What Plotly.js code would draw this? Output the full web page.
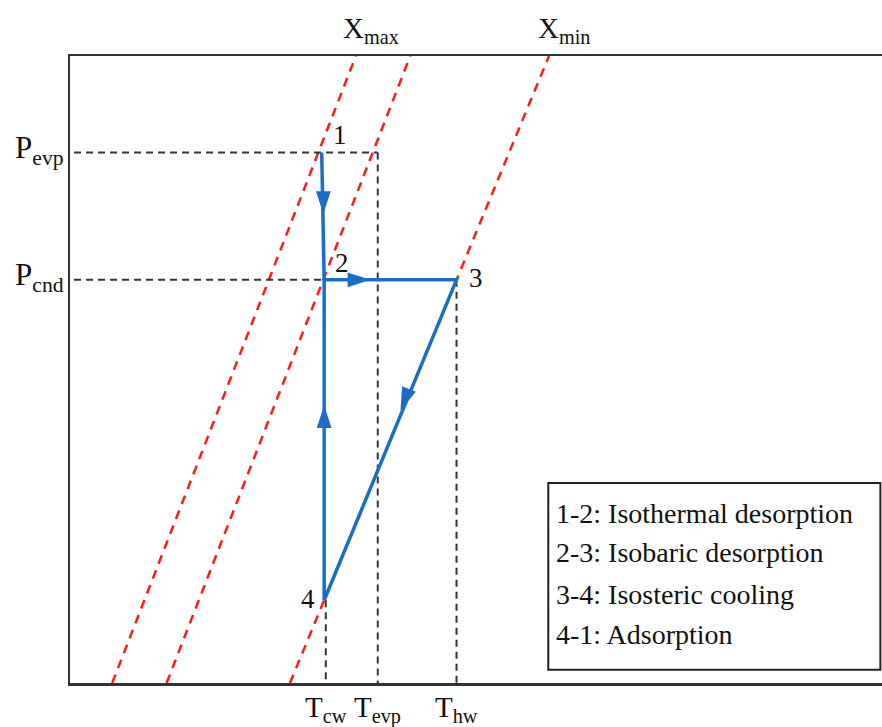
<!DOCTYPE html>
<html>
<head>
<meta charset="utf-8">
<script src="https://cdn.plot.ly/plotly-3.0.1.min.js"></script>
<style>html,body{margin:0;padding:0;background:#fff;}#chart{width:882px;height:727px;}</style>
</head>
<body>
<div id="chart"></div>
<script>
// Characteristic temperatures (x, arbitrary units) and pressures (y, arbitrary ln P units)
var tempNames = ["T<sub>cw</sub>", "T<sub>evp</sub>", "T<sub>hw</sub>"];
var tempValues = [31.5, 37.9, 47.6];
var presNames = ["P<sub>evp</sub>", "P<sub>cnd</sub>"];
var presValues = [84.6, 64.3];

// Cycle states 1-2-3-4
var stateNames = ["1", "2", "3", "4"];
var stateX = [31.0, 31.3, 47.6, 31.3];
var stateY = [84.6, 64.3, 64.3, 13.2];

// Isosteres (red dashed): endpoints at bottom and top of the frame
var isoNames = ["X<sub>max</sub>", "", "X<sub>min</sub>"];
var isoXBottom = [5.2, 11.9, 27.09];
var isoXTop = [35.2, 41.9, 58.99];
var isoYBottom = 0;
var isoYTop = 100;

// Direction arrows on each process
var arrowX = [31.2, 37.0, 40.7, 31.3];
var arrowY = [74.8, 64.3, 43.5, 44.3];
var arrowAngle = [180, 90, 202, 0];

// Process descriptions
var processLabels = ["1-2: Isothermal desorption", "2-3: Isobaric desorption", "3-4: Isosteric cooling", "4-1: Adsorption"];

var serif = "Liberation Serif";
var traces = [];

// red dashed isosteres
for (var i = 0; i < isoXBottom.length; i++) {
  traces.push({
    x: [isoXBottom[i], isoXTop[i]], y: [isoYBottom, isoYTop],
    mode: "lines", line: {color: "#ff1a1a", width: 2.5, dash: "9px,7px"},
    hoverinfo: "skip", showlegend: false
  });
}

// black dashed guide lines
var guides = [
  {x: [0.5, tempValues[1]], y: [presValues[0], presValues[0]]},
  {x: [0.5, tempValues[2]], y: [presValues[1], presValues[1]]},
  {x: [tempValues[1], tempValues[1]], y: [presValues[0], 0]},
  {x: [tempValues[2], tempValues[2]], y: [presValues[1], 0]},
  {x: [tempValues[0], tempValues[0]], y: [stateY[3], 0]}
];
guides.forEach(function (g) {
  traces.push({x: g.x, y: g.y, mode: "lines", line: {color: "#333", width: 2, dash: "7px,5px"},
    hoverinfo: "skip", showlegend: false});
});

// blue cycle
traces.push({
  x: [stateX[0], stateX[1], stateX[2], stateX[3], stateX[1]],
  y: [stateY[0], stateY[1], stateY[2], stateY[3], stateY[1]],
  mode: "lines", line: {color: "#1a6fc4", width: 3.5}, hoverinfo: "skip", showlegend: false
});
traces.push({
  x: arrowX, y: arrowY, mode: "markers",
  marker: {symbol: "arrow", size: 24, color: "#1a6fc4", angle: arrowAngle, line: {width: 0}},
  hoverinfo: "skip", showlegend: false
});

var annotations = [];
var stateDx = [18, 18, 19, -16];
var stateDy = [-18, -17, -2, -1];
for (var s = 0; s < stateNames.length; s++) {
  annotations.push({x: stateX[s], y: stateY[s], xref: "x", yref: "y", text: stateNames[s],
    showarrow: false, xshift: stateDx[s], yshift: -stateDy[s], font: {family: serif, size: 27, color: "#111"}});
}
for (var t = 0; t < tempNames.length; t++) {
  annotations.push({x: tempValues[t], y: 0, xref: "x", yref: "paper", yanchor: "top", yshift: -6,
    text: tempNames[t], showarrow: false, font: {family: serif, size: 29, color: "#111"}});
}
for (var p = 0; p < presNames.length; p++) {
  annotations.push({x: 0, y: presValues[p], xref: "paper", yref: "y", xanchor: "right", xshift: -4, yshift: 3,
    text: presNames[p], showarrow: false, font: {family: serif, size: 31, color: "#111"}});
}
for (var k = 0; k < isoNames.length; k++) {
  if (!isoNames[k]) continue;
  annotations.push({x: isoXTop[k] + 1.9, y: 1, xref: "x", yref: "paper", yanchor: "bottom", yshift: 6,
    text: isoNames[k], showarrow: false, font: {family: serif, size: 29, color: "#111"}});
}
var legendY = [27.0, 20.8, 14.1, 7.7];
for (var q = 0; q < processLabels.length; q++) {
  annotations.push({x: 59.6, y: legendY[q], xref: "x", yref: "y", xanchor: "left", text: processLabels[q],
    showarrow: false, font: {family: serif, size: 28, color: "#111"}});
}

var layout = {
  width: 882, height: 727,
  margin: {l: 70, r: 0, t: 56, b: 44},
  paper_bgcolor: "#fff", plot_bgcolor: "#fff",
  showlegend: false,
  font: {family: serif},
  xaxis: {range: [0, 100], showgrid: false, zeroline: false, showticklabels: false, ticks: "",
    showline: true, mirror: true, linecolor: "#333", linewidth: 2.5, fixedrange: true},
  yaxis: {range: [0, 100], showgrid: false, zeroline: false, showticklabels: false, ticks: "",
    showline: true, mirror: false, linecolor: "#333", linewidth: 2.5, fixedrange: true},
  shapes: [{type: "rect", xref: "x", yref: "y", x0: 58.9, x1: 99.8, y0: 2.1, y1: 31.9,
    line: {color: "#222", width: 2}, fillcolor: "rgba(0,0,0,0)"}],
  annotations: annotations
};

Plotly.newPlot("chart", traces, layout, {displayModeBar: false, staticPlot: true});
</script>
</body>
</html>
